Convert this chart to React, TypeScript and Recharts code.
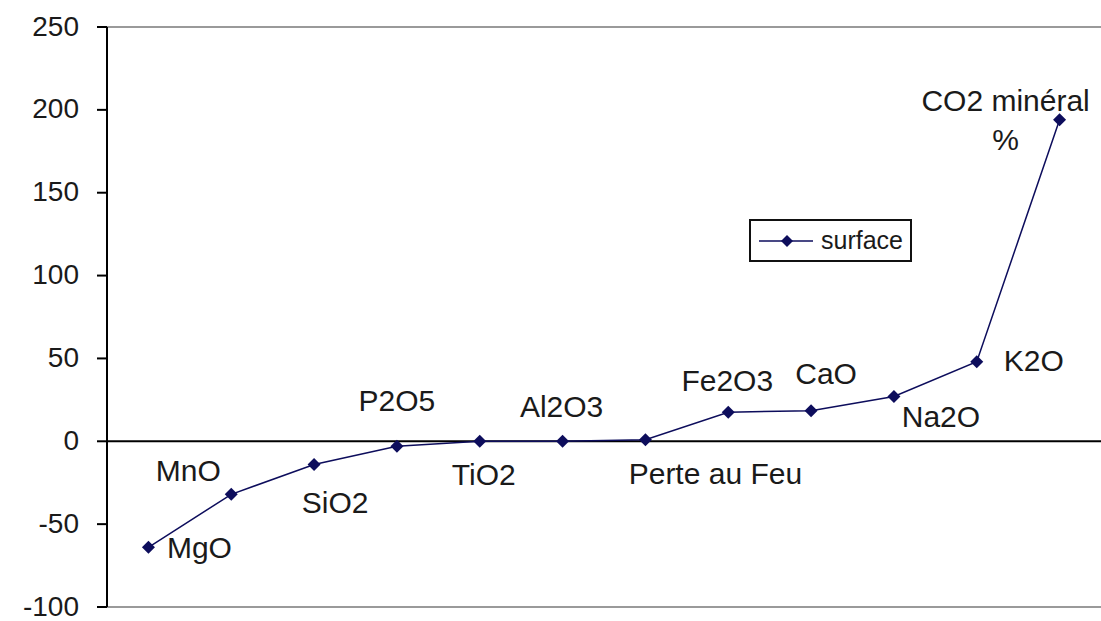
import { LineChart, Line, YAxis, XAxis, ReferenceLine, LabelList, Legend } from "recharts";

const oxides = ["MgO", "MnO", "SiO2", "P2O5", "TiO2", "Al2O3", "Perte au Feu", "Fe2O3", "CaO", "Na2O", "K2O", "CO2 minéral %"];
const surface = [-64, -32, -14, -3, 0, 0, 1, 17.5, 18.5, 27, 48, 194];
const yTicks = [-100, -50, 0, 50, 100, 150, 200, 250];

// label text lines and offsets from each point (Excel-style data labels)
const labelLines = [["MgO"], ["MnO"], ["SiO2"], ["P2O5"], ["TiO2"], ["Al2O3"], ["Perte au Feu"], ["Fe2O3"], ["CaO"], ["Na2O"], ["K2O"], ["CO2 minéral", "%"]];
const labelOffsets = [
  [51, 0], [-43, -24], [21, 38], [0, -46], [4, 33], [-1, -35],
  [70, 33], [-1, -32], [15, -38], [47, 19], [57, -2], [-54, -20],
];

const data = oxides.map((name, i) => ({ name, surface: surface[i] }));

const NAVY = "#0d0d5c";
const FONT = "'Liberation Sans', Arial, sans-serif";

const Diamond = (props: any) => {
  const { cx, cy, index } = props;
  if (cx == null || cy == null) return <g key={index} />;
  const r = 6.5;
  return (
    <path
      key={index}
      d={`M${cx},${cy - r}L${cx + r},${cy}L${cx},${cy + r}L${cx - r},${cy}Z`}
      fill={NAVY}
    />
  );
};

const PointLabel = (props: any) => {
  const { x, y, index } = props;
  const [dx, dy] = labelOffsets[index];
  const lines = labelLines[index];
  return (
    <text
      x={x + dx}
      y={y + dy}
      textAnchor="middle"
      dominantBaseline="central"
      fontSize={30}
      fontFamily={FONT}
      fill="#1a1a1a"
    >
      {lines.map((t, k) => (
        <tspan key={k} x={x + dx} dy={k === 0 ? 0 : 39}>
          {t}
        </tspan>
      ))}
    </text>
  );
};

const YTick = (props: any) => {
  const { x, y, payload } = props;
  return (
    <text x={x} y={y - 1} textAnchor="end" dominantBaseline="central" fontSize={28} fontFamily={FONT} fill="#1a1a1a">
      {payload.value}
    </text>
  );
};

const LegendBox = () => (
  <div
    style={{
      boxSizing: "border-box",
      width: 163,
      height: 43,
      border: "2px solid #111",
      background: "#fff",
      display: "flex",
      alignItems: "center",
      fontFamily: FONT,
      fontSize: 25,
      color: "#1a1a1a",
    }}
  >
    <svg width={62} height={16} style={{ marginLeft: 8 }}>
      <line x1={0} y1={8} x2={54} y2={8} stroke={NAVY} strokeWidth={1.5} />
      <path d="M28,2L34,8L28,14L22,8Z" fill={NAVY} />
    </svg>
    <span>surface</span>
  </div>
);

export default function App() {
  return (
    <div style={{ position: "absolute", left: 0, top: 0, width: 1101, height: 621, background: "#fff" }}>
      <LineChart width={1101} height={621} data={data} margin={{ top: 27, right: 0, bottom: 14, left: 0 }}>
        <XAxis dataKey="name" scale="band" hide />
        <YAxis
          domain={[-100, 250]}
          ticks={yTicks}
          width={107}
          axisLine={{ stroke: "#000", strokeWidth: 2 }}
          tickLine={{ stroke: "#000", strokeWidth: 2 }}
          tickSize={10}
          tickMargin={18}
          tick={(p: any) => <YTick {...p} />}
          interval={0}
        />
        <ReferenceLine y={250} stroke="#9a9a9a" strokeWidth={2} />
        <ReferenceLine y={-100} stroke="#9a9a9a" strokeWidth={2} />
        <ReferenceLine y={0} stroke="#000" strokeWidth={2} />
        <Legend
          layout="vertical"
          align="center"
          verticalAlign="middle"
          content={() => <LegendBox />}
          wrapperStyle={{ left: 749, top: 219, width: 163, height: 43 }}
        />
        <Line
          type="linear"
          dataKey="surface"
          stroke={NAVY}
          strokeWidth={1.5}
          dot={(p: any) => <Diamond {...p} />}
          activeDot={false}
          isAnimationActive={false}
        >
          <LabelList dataKey="name" content={(p: any) => <PointLabel {...p} />} />
        </Line>
      </LineChart>
    </div>
  );
}
